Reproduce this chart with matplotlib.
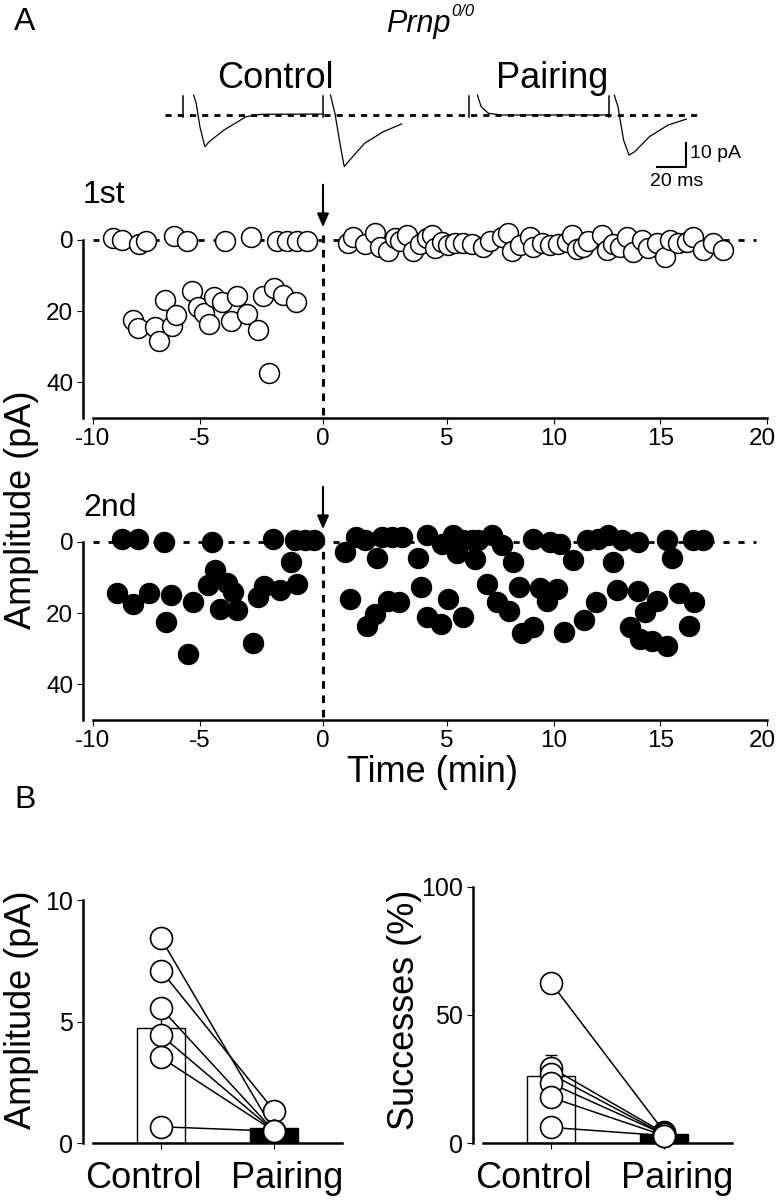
import matplotlib
matplotlib.use("Agg")
import matplotlib.pyplot as plt
import matplotlib.transforms as mtransforms
import numpy as np

plt.rcParams['font.family'] = ['Liberation Sans', 'DejaVu Sans']
plt.rcParams['axes.unicode_minus'] = False

# ---------------- data ----------------
# example traces (time in ms, current in pA)
ctrl1_t = [22.8, 24.5, 27.1, 30.4, 33.4, 43.4, 58.4, 68.5, 110.6]
ctrl1_i = [8.3, 5.0, -5.0, -13.2, -11.1, -6.25, -0.7, 0.3, 0.4]
ctrl2_t = [115.6, 118.6, 122.4, 124.9, 128.7, 138.7, 151.3, 163.8]
ctrl2_i = [8.3, 0.7, -13.2, -21.5, -18.75, -11.8, -7.0, -3.75]
pair1_t = [215.2, 217.7, 222.7, 231.5, 304.2]
pair1_i = [8.3, 3.5, 0.7, 0.0, 0.0]
pair2_t = [308.0, 310.5, 314.3, 318.0, 321.8, 331.9, 344.4, 356.9]
pair2_i = [8.3, 3.5, -10.4, -16.7, -15.3, -9.0, -4.2, -1.7]
stim_t = [15.8, 110.6, 209.4, 304.2]

# 1st EPSC amplitudes (time in min, amplitude in pA)
first_time = [-9.07, -8.64, -7.85, -7.52, -6.21, -5.61, -3.98, -2.93, -1.87, -1.46, -1.06, -0.65,
              -8.14, -7.88, -7.10, -6.90, -6.64, -6.32, -6.12, -5.36, -5.08, -4.83, -4.63,
              -4.42, -4.12, -3.75, -3.51, -3.08, -2.65, -2.43, -1.98, -1.64, -1.10, -2.18,
              1.02, 1.22, 1.69, 2.10, 2.30, 2.63, 2.90, 3.10, 3.40, 3.64, 3.91, 4.18, 4.38,
              4.52, 4.79, 5.06, 5.38, 5.76, 6.16, 6.70, 7.02, 7.56, 7.87, 8.03, 8.42, 8.89,
              9.05, 9.44, 9.83, 10.22, 10.61, 10.85, 11.08, 11.39, 11.62, 12.25, 12.48,
              12.79, 13.11, 13.42, 13.73, 14.13, 14.44, 14.83, 15.22, 15.45, 15.84, 16.24,
              16.55, 17.02, 17.49, 17.96]
first_amp = [-0.5, 0.0, 1.1, 0.3, -1.1, 0.3, 0.3, -0.8, 0.3, 0.3, 0.3, 0.3,
             22.4, 24.7, 24.4, 28.5, 16.8, 24.1, 21.2, 14.4, 18.8, 20.5, 23.5,
             16.0, 17.3, 22.8, 15.7, 20.7, 25.4, 15.7, 13.5, 15.4, 17.5, 37.3,
             0.75, -0.93, 1.12, -1.86, 1.86, 2.98, -0.47, 0.19, -1.4, 2.98, 1.12, -0.47, -1.4,
             2.33, 0.47, 1.4, 0.93, 0.75, 1.12, 2.05, 0.19, -0.93, -1.86, 2.98, 1.4, -0.93,
             2.05, 0.93, 1.4, 1.12, 0.47, -1.4, 2.61, 1.86, 0.19, -1.4, 2.8,
             1.12, 1.86, -0.93, 3.26, 0.0, 2.33, 0.93, 4.66, 0.0, 0.93, 0.47,
             -0.93, 2.8, 0.93, 2.8]

# 2nd EPSC amplitudes
second_time = [-8.66, -7.88, -6.68, -4.52, -2.02, -1.14, -0.73, -0.37,
               -8.89, -8.12, -7.37, -6.36, -6.59, -5.31, -5.57, -4.66, -4.39, -4.19,
               -3.91, -3.67, -3.51, -2.86, -2.63, -2.40, -1.75, -1.31, -1.07,
               1.33, 1.69, 2.37, 2.77, 3.17, 4.18, 4.79, 5.30, 5.76, 6.16, 6.47, 7.10,
               7.56, 9.05, 9.83, 10.30, 11.55, 12.09, 12.56, 13.19, 13.97, 15.30, 16.55, 17.02,
               0.89, 2.17, 3.82, 5.45, 6.31, 8.08, 10.92, 12.79, 15.53,
               1.09, 1.76, 2.10, 2.63, 3.08, 3.94, 4.21, 4.75, 5.06, 5.74, 6.86, 7.33,
               7.92, 8.39, 8.50, 9.02, 9.36, 9.70, 10.14, 10.50, 11.44, 11.99, 12.96,
               13.58, 13.97, 14.28, 14.05, 14.60, 14.86, 15.30, 15.89, 16.58, 16.36]
second_amp = [-0.7, -0.7, 0.0, 0.0, -0.7, -0.5, -0.5, -0.5,
              14.4, 17.5, 14.3, 15.0, 22.4, 17.0, 31.4, 12.2, 8.0, 18.9,
              11.5, 14.1, 19.1, 28.3, 15.4, 12.4, 13.5, 5.5, 11.9,
              -1.5, -0.5, -1.4, -1.4, -1.4, -1.9, 0.5, -1.9, -0.5, -0.5, -0.5, -1.9,
              0.8, -0.9, 0.0, 0.5, -0.5, -0.9, -1.9, -0.5, 0.0, -0.5, -0.5, -0.5,
              2.7, 4.5, 4.5, 3.1, 4.8, 5.5, 5.0, 5.5, 4.5,
              16.1, 23.5, 20.3, 16.6, 16.9, 12.6, 21.2, 23.1, 16.1, 21.2, 11.9, 16.9,
              19.4, 12.6, 25.6, 24.0, 12.9, 16.6, 13.3, 25.4, 21.9, 17.0, 13.5,
              24.0, 13.8, 19.8, 27.2, 27.7, 16.6, 29.1, 14.4, 16.9, 23.5]

# summary (B)
groups = ["Control", "Pairing"]
amp_control = [8.42, 7.10, 5.55, 4.45, 3.53, 0.68]
amp_pairing = [0.5, 1.34, 0.5, 0.5, 0.5, 0.5]
amp_mean = [4.73, 0.62]
amp_sem = [0.95, 0.0]
succ_control = [62.6, 29.5, 27.0, 23.4, 17.9, 6.2]
succ_pairing = [4.5, 4.0, 3.5, 3.5, 3.0, 3.0]
succ_mean = [26.2, 3.5]
succ_sem = [8.2, 0.0]

# ---------------- layout ----------------
W, H = 778, 1200
fig = plt.figure(figsize=(W / 100, H / 100), dpi=100)


def rect(x0, y0, x1, y1):
    return [x0 / W, 1 - y1 / H, (x1 - x0) / W, (y1 - y0) / H]


def ftext(x, y, s, **kw):
    fig.text(x / W, 1 - y / H, s, **kw)


def shift(label, dx):
    label.set_transform(label.get_transform()
                        + mtransforms.ScaledTranslation(dx / 100, 0, fig.dpi_scale_trans))


# the time axis of the original is not uniform around 0
t_nodes = [-10, -5, 0, 5, 20]
p_nodes = [0, 107, 230, 354, 674]


def fwd(t):
    return np.interp(t, t_nodes, p_nodes, left=-1e3, right=1e3)


def inv(p):
    return np.interp(p, p_nodes, t_nodes)


# example traces
axt = fig.add_axes(rect(160, 88, 710, 190))
axt.axis('off')
axt.set_xlim(0, 372.9)
axt.set_ylim(-31.25, 11.25)
axt.plot([3.3, 366.8], [0, 0], color='k', lw=2, dashes=(2.2, 2.2))
for tt, ii in [(ctrl1_t, ctrl1_i), (ctrl2_t, ctrl2_i), (pair1_t, pair1_i), (pair2_t, pair2_i)]:
    axt.plot(tt, ii, color='k', lw=0.9)
for s in stim_t:
    axt.plot([s, s], [8.0, -1.0], color='k', lw=1.1)
axt.plot([336.9, 356.9, 356.9], [-21.7, -21.7, -11.7], color='k', lw=1.5)
axt.text(359.5, -16.0, "10 pA", fontsize=14, va='center', ha='left')
axt.text(350, -27.5, "20 ms", fontsize=14, va='center', ha='center')

ftext(25, 22, "A", fontsize=23, ha='center', va='center')
ftext(386, 24, "Prnp", fontsize=22, style='italic', ha='left', va='center')
ftext(451, 12, "0/0", fontsize=12, style='italic', ha='left', va='center')
ftext(275, 78, "Control", fontsize=26, ha='center', va='center')
ftext(552, 78, "Pairing", fontsize=26, ha='center', va='center')


def time_axes(y0, y1, times, amps, face, label, label_y):
    ax = fig.add_axes(rect(93, y0, 767, y1))
    ax.set_xscale('function', functions=(fwd, inv))
    ax.set_xlim(-10, 20)
    ax.set_ylim(50, -6)
    ax.set_xticks([-10, -5, 0, 5, 10, 15, 20])
    ax.set_yticks([0, 20, 40])
    for side in ['top', 'right']:
        ax.spines[side].set_visible(False)
    ax.spines['left'].set_position(('outward', 7.2))
    ax.spines['left'].set_bounds(0, 50)
    ax.spines['left'].set_linewidth(1.8)
    ax.spines['bottom'].set_linewidth(1.8)
    ax.tick_params(direction='out', length=4, width=0.8, labelsize=17.5, pad=3)
    shift(ax.get_xticklabels()[-1], -5)
    ax.patch.set_visible(False)
    ax.plot([-10, 19.5], [0, 0], color='k', lw=2, dashes=(2.2, 3.2), zorder=1)
    ax.plot([0, 0], [-1.5, 50], color='k', lw=2.2, dashes=(2.5, 2.2), zorder=1, clip_on=False)
    ax.scatter(times, amps, s=205, facecolor=face, edgecolor='k', linewidths=1.1,
               zorder=3, clip_on=False)
    ax.annotate("", xy=(0, -3.6), xytext=(0, -15.5), annotation_clip=False,
                arrowprops=dict(arrowstyle='-|>,head_length=0.8,head_width=0.35',
                                color='k', lw=1.5, shrinkA=0, shrinkB=0))
    ftext(83, label_y, label, fontsize=23, ha='left', va='center')
    return ax


ax1 = time_axes(218.6, 418, first_time, first_amp, 'white', "1st", 195)
ax2 = time_axes(520.6, 720, second_time, second_amp, 'black', "2nd", 508)

ftext(432, 773, "Time (min)", fontsize=26, ha='center', va='center')
ftext(22, 510, "Amplitude (pA)", fontsize=26, rotation=90, ha='center', va='center')
ftext(25, 800, "B", fontsize=23, ha='center', va='center')


def summary_axes(x0, x1, y0, top, ctrl, pair, mean, sem, ticks, label, label_x):
    ax = fig.add_axes(rect(x0, y0, x1, 1143.3))
    ax.set_xlim(-0.6, 1.6)
    ax.set_ylim(0, top)
    ax.set_yticks(ticks)
    ax.set_xticks([0, 1])
    ax.set_xticklabels(groups)
    for side in ['top', 'right']:
        ax.spines[side].set_visible(False)
    ax.spines['left'].set_position(('outward', 7.2))
    ax.spines['left'].set_linewidth(1.8)
    ax.spines['bottom'].set_linewidth(1.8)
    ax.tick_params(axis='y', direction='out', length=4, width=0.8, labelsize=18, pad=3)
    ax.tick_params(axis='x', direction='out', length=4, width=0.8, labelsize=26, pad=9)
    for lab, dx in zip(ax.get_xticklabels(), [-18, 13]):
        shift(lab, dx)
    ax.patch.set_visible(False)
    ax.bar([0, 1], mean, width=0.42, color=['white', 'black'], edgecolor='k',
           linewidth=1.0, zorder=1)
    ax.errorbar([0], [mean[0]], yerr=[[0], [sem[0]]], fmt='none', ecolor='k',
                elinewidth=1.0, capsize=4, capthick=1.0, zorder=1)
    for c, p in zip(ctrl, pair):
        ax.plot([0, 1], [c, p], color='k', lw=1.1, zorder=2)
    ax.scatter([0] * len(ctrl), ctrl, s=250, facecolor='white', edgecolor='k',
               linewidths=1.2, zorder=3, clip_on=False)
    ax.scatter([1] * len(pair), pair, s=250, facecolor='white', edgecolor='k',
               linewidths=1.2, zorder=3, clip_on=False)
    ftext(label_x, 1010, label, fontsize=26, rotation=90, ha='center', va='center')
    return ax


summary_axes(93, 342, 900, 10, amp_control, amp_pairing, amp_mean, amp_sem,
             [0, 5, 10], "Amplitude (pA)", 22)
summary_axes(483, 732, 886.7, 100, succ_control, succ_pairing, succ_mean, succ_sem,
             [0, 50, 100], "Successes (%)", 404)

fig.savefig("out.png", dpi=100)
